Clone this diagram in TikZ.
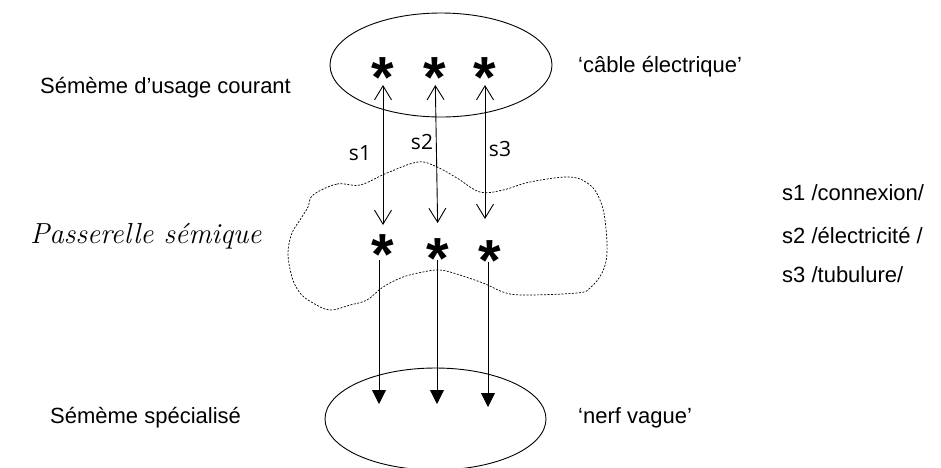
\documentclass[tikz,border=0pt]{standalone}
\usepackage{fontspec}
\setmainfont{Liberation Sans}
\newfontfamily\lblfont{Open Sans}
\newfontfamily\itfont{Latin Modern Roman}
\usetikzlibrary{shapes.geometric,arrows.meta}
\tikzset{
  txt/.style={anchor=base west, inner sep=0, font=\fontsize{22}{26}\selectfont},
  slbl/.style={anchor=base, inner sep=0, font=\lblfont\fontsize{21}{24}\selectfont},
  star/.style={anchor=base, inner sep=0, font=\bfseries\fontsize{58}{62}\selectfont},
  sememe/.style={draw, ellipse, inner sep=0, line width=0.9pt},
  link/.style={line width=0.9pt},
  biarrow/.style={link, {Straight Barb[length=14pt,width=17pt,line width=0.9pt]}-{Straight Barb[length=14pt,width=17pt,line width=0.9pt]}},
  downarrow/.style={link, -{Triangle[length=14pt,width=14pt]}},
  cloud/.style={line width=0.7pt, dash pattern=on 2pt off 1.5pt}
}
\begin{document}
\begin{tikzpicture}[x=1pt,y=-1pt]
\useasboundingbox (0,0) rectangle (941,467);
% ellipses
\node[sememe, minimum width=222pt, minimum height=104pt] (top) at (441,65) {};
\node[sememe, minimum width=221pt, minimum height=102pt] (bot) at (435.5,419) {};
% cloud
\draw[cloud] plot[smooth cycle, tension=0.6] coordinates {
 (313,195) (337,184) (360,185) (387,173) (418,162) (437,167) (457,178)
 (480,192) (503,190) (530,182) (570,177) (590,185) (600,200) (605,220)
 (607,253) (602,273) (590,288) (577,293) (523,295) (503,292) (483,283)
 (450,272) (437,270) (423,272) (403,277) (383,287) (367,300) (350,305)
 (330,310) (313,303) (300,293) (292,277) (288,253) (292,233) (300,220) (308,207)};
% asterisks (top)
\node[star] (t1) at (383,65) {\raisebox{-0.56em}{*}};
\node[star] (t2) at (435,65) {\raisebox{-0.56em}{*}};
\node[star] (t3) at (485,65) {\raisebox{-0.56em}{*}};
% asterisks (middle)
\node[star] (m1) at (383,242) {\raisebox{-0.56em}{*}};
\node[star] (m2) at (438,246) {\raisebox{-0.56em}{*}};
\node[star] (m3) at (490,248) {\raisebox{-0.56em}{*}};
% arrow end points in the bottom ellipse
\coordinate (b1) at (379,404);
\coordinate (b2) at (437,404);
\coordinate (b3) at (488,407);
% double arrows
\draw[biarrow, shorten <=17pt, shorten >=20pt] (m1.base) -- (t1.base);
\draw[biarrow, shorten <=23pt, shorten >=20pt] (m2.base) -- (t2.base);
\draw[biarrow, shorten <=29pt, shorten >=20pt] (m3.base -| t3.base) -- (t3.base);
% down arrows
\draw[downarrow] ([yshift=-18pt]m1.base -| b1) -- (b1);
\draw[downarrow] ([yshift=-14pt]m2.base -| b2) -- (b2);
\draw[downarrow] ([yshift=-14pt]m3.base -| b3) -- (b3);
% s labels
\node[slbl] (s1) at (360,160) {s1};
\node[slbl] (s2) at (422,149) {s2};
\node[slbl] (s3) at (500,156) {s3};
% texts
\node[txt] (usage) at (40,93) {Sémème d’usage courant};
\node[txt] (cable) at (578,72) {‘câble électrique’};
\node[txt, font=\itfont\itshape\fontsize{29}{32}\selectfont] (pass) at (30,243) {Passerelle sémique};
\node[txt] (spec) at (50,423) {Sémème spécialisé};
\node[txt] (nerf) at (578,423) {‘nerf vague’};
\node[txt] (c1) at (782,200) {s1 /connexion/};
\node[txt] (c2) at (782,243) {s2 /électricité /};
\node[txt] (c3) at (782,282) {s3 /tubulure/};
\end{tikzpicture}
\end{document}
